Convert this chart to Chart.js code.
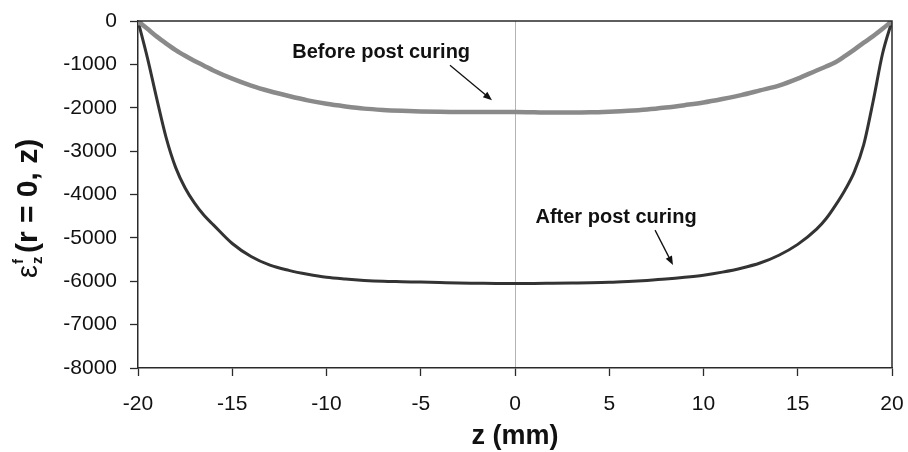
<!DOCTYPE html>
<html>
<head>
<meta charset="utf-8">
<script src="https://cdn.jsdelivr.net/npm/chart.js@4/dist/chart.umd.min.js"></script>
<style>
html, body { margin: 0; padding: 0; background: #fff; }
</style>
</head>
<body>
<canvas id="strain" width="908" height="452"></canvas>
<script>
// axial strain along the axis, z in mm
var zPos = [-20, -19.5, -19, -18.5, -18, -17.5, -17, -16.5, -16, -15, -14, -13, -12, -11, -10, -9, -8, -7, -6, -5, -4, -3, -2, -1,
	0, 1, 2, 3, 4, 5, 6, 7, 8, 9, 10, 11, 12, 13, 14, 15, 16, 16.5, 17, 17.5, 18, 18.5, 19, 19.5, 20]

var beforeCuring = [0, -180, -360, -520, -670, -800, -920, -1030, -1140, -1330, -1490, -1620, -1730, -1830, -1910, -1970, -2020, -2050, -2070, -2085, -2095, -2100, -2100, -2100,
	-2100, -2105, -2110, -2110, -2105, -2090, -2070, -2040, -1995, -1940, -1880, -1800, -1710, -1600, -1490, -1330, -1140, -1050, -950, -810, -660, -500, -350, -180, 0]

var afterCuring = [0, -850, -1800, -2700, -3380, -3850, -4200, -4480, -4700, -5130, -5430, -5630, -5750, -5840, -5910, -5950, -5980, -6000, -6010, -6020, -6030, -6040, -6045, -6050,
	-6050, -6050, -6045, -6040, -6035, -6025, -6005, -5980, -5950, -5910, -5860, -5790, -5700, -5580, -5400, -5150, -4800, -4560, -4250, -3900, -3480, -2850, -1850, -750, 0]

var seriesNames = ['Before post curing', 'After post curing']

// label text position and arrow (from, to), in data units
var notes = [
	{ text: seriesNames[0], x: -7.1, y: -720, from: [-3.45, -1020], to: [-1.22, -1827] },
	{ text: seriesNames[1], x: 5.36, y: -4530, from: [7.43, -4822], to: [8.38, -5628] }
]

function points(vals)
{
	var out = []
	for (var i = 0; i < zPos.length; i++)
		out.push({ x: zPos[i], y: vals[i] })
	return out
}

var FONT = '"Liberation Sans", Arial, sans-serif'

var extras = {
	id: 'extras',
	afterDraw: function(chart)
	{
		var ctx = chart.ctx
		var a = chart.chartArea
		var sx = chart.scales.x
		var sy = chart.scales.y

		// top and right edges of the frame
		ctx.save()
		ctx.strokeStyle = '#2a2a2a'
		ctx.lineWidth = 1.5
		ctx.beginPath()
		ctx.moveTo(a.left, a.top)
		ctx.lineTo(a.right, a.top)
		ctx.lineTo(a.right, a.bottom)
		ctx.stroke()

		// notes with arrows
		ctx.fillStyle = '#111'
		ctx.strokeStyle = '#111'
		ctx.lineWidth = 1.3
		ctx.font = 'bold 20px ' + FONT
		ctx.textAlign = 'center'
		ctx.textBaseline = 'middle'
		for (var i = 0; i < notes.length; i++)
		{
			var n = notes[i]
			ctx.fillText(n.text, sx.getPixelForValue(n.x), sy.getPixelForValue(n.y))
			var x0 = sx.getPixelForValue(n.from[0]), y0 = sy.getPixelForValue(n.from[1])
			var x1 = sx.getPixelForValue(n.to[0]), y1 = sy.getPixelForValue(n.to[1])
			var ang = Math.atan2(y1 - y0, x1 - x0)
			ctx.beginPath()
			ctx.moveTo(x0, y0)
			ctx.lineTo(x1 - 5 * Math.cos(ang), y1 - 5 * Math.sin(ang))
			ctx.stroke()
			ctx.beginPath()
			ctx.moveTo(x1, y1)
			ctx.lineTo(x1 - 9 * Math.cos(ang) + 3.5 * Math.sin(ang), y1 - 9 * Math.sin(ang) - 3.5 * Math.cos(ang))
			ctx.lineTo(x1 - 9 * Math.cos(ang) - 3.5 * Math.sin(ang), y1 - 9 * Math.sin(ang) + 3.5 * Math.cos(ang))
			ctx.closePath()
			ctx.fill()
		}

		// x title
		ctx.font = 'bold 27px ' + FONT
		ctx.textAlign = 'center'
		ctx.textBaseline = 'middle'
		ctx.fillText('z (mm)', (a.left + a.right) / 2, 437)

		// y title: epsilon with sub z and sup f, then (r = 0, z)
		ctx.translate(37, 278)
		ctx.rotate(-Math.PI / 2)
		ctx.textAlign = 'left'
		ctx.textBaseline = 'alphabetic'
		ctx.font = '29px ' + FONT
		ctx.fillText('ε', 0, 0)
		var w = ctx.measureText('ε').width
		ctx.font = 'bold 15px ' + FONT
		ctx.fillText('f', w + 1, -14)
		ctx.fillText('z', w + 1, 5)
		ctx.font = 'bold 30px ' + FONT
		ctx.fillText('(r = 0, z)', w + 12, 0)
		ctx.restore()
	}
}

var chart = new Chart(document.getElementById('strain'), {
	type: 'line',
	data: {
		datasets: [
			{
				label: seriesNames[0],
				data: points(beforeCuring),
				borderColor: '#8a8a8a',
				backgroundColor: '#8a8a8a',
				borderWidth: 4.5,
				pointRadius: function(c) { return (c.dataIndex === 0 || c.dataIndex === zPos.length - 1) ? 3 : 0 },
				pointStyle: 'rect',
				cubicInterpolationMode: 'monotone',
				fill: false
			},
			{
				label: seriesNames[1],
				data: points(afterCuring),
				borderColor: '#333333',
				borderWidth: 3,
				pointRadius: 0,
				cubicInterpolationMode: 'monotone',
				fill: false
			}
		]
	},
	plugins: [extras],
	options: {
		responsive: false,
		animation: false,
		events: [],
		layout: { padding: { left: 0, right: 16, top: 21, bottom: 0 } },
		plugins: {
			legend: { display: false },
			tooltip: { enabled: false }
		},
		scales: {
			x: {
				type: 'linear',
				min: -20,
				max: 20,
				afterFit: function(s) { s.height = 84; s.paddingLeft = 0; s.paddingRight = 0 },
				ticks: {
					stepSize: 5,
					padding: 16,
					color: '#111',
					font: { family: FONT, size: 21 }
				},
				grid: {
					drawOnChartArea: true,
					color: function(c) { return (c.tick && c.tick.value === 0) ? '#b4b4b4' : 'rgba(0,0,0,0)' },
					lineWidth: 1,
					tickLength: 8,
					tickColor: '#2a2a2a',
					tickWidth: 1.3
				},
				border: { color: '#2a2a2a', width: 1.5 }
			},
			y: {
				min: -8000,
				max: 0,
				afterFit: function(s) { s.width = 138; s.paddingTop = 0; s.paddingBottom = 0 },
				ticks: {
					stepSize: 1000,
					padding: 13,
					color: '#111',
					font: { family: FONT, size: 21 },
					callback: function(v) { return String(v) }
				},
				grid: {
					drawOnChartArea: false,
					tickLength: 8,
					tickColor: '#2a2a2a',
					tickWidth: 1.3
				},
				border: { color: '#2a2a2a', width: 1.5 }
			}
		}
	}
})
</script>
</body>
</html>
